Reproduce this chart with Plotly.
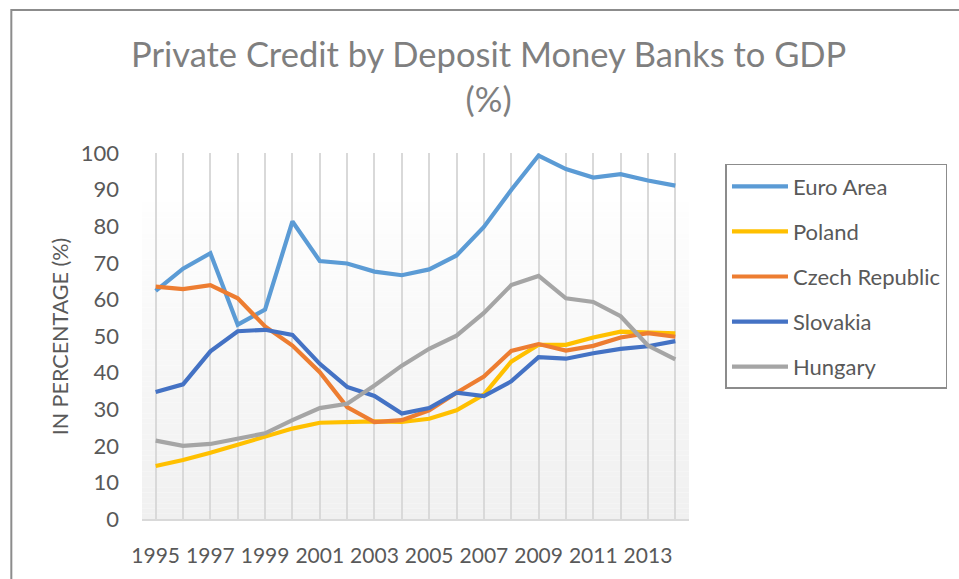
import plotly.graph_objects as go

years = list(range(1995, 2015))
tick_text = [str(y) if y % 2 == 1 else "" for y in years]

euro_area = [62.3, 68.4, 72.6, 53.1, 57.2, 81.3, 70.5, 69.8, 67.6, 66.6,
             68.2, 72.0, 79.8, 89.9, 99.3, 95.6, 93.3, 94.2, 92.5, 91.1]
poland = [14.5, 16.1, 18.1, 20.4, 22.5, 24.7, 26.3, 26.5, 26.7, 26.5,
          27.4, 29.7, 34.0, 43.0, 47.6, 47.6, 49.6, 51.2, 51.0, 50.7]
czech = [63.5, 62.8, 63.9, 60.3, 52.6, 47.4, 40.1, 30.6, 26.5, 27.0,
         29.7, 34.5, 38.9, 45.9, 47.8, 46.0, 47.3, 49.6, 50.8, 49.8]
slovakia = [34.7, 36.8, 45.8, 51.3, 51.7, 50.3, 42.4, 36.1, 33.6, 28.8,
            30.3, 34.5, 33.6, 37.6, 44.2, 43.8, 45.3, 46.5, 47.2, 48.6]
hungary = [21.4, 20.0, 20.5, 22.0, 23.4, 27.0, 30.3, 31.5, 36.5, 41.9,
           46.5, 50.1, 56.3, 63.9, 66.4, 60.3, 59.3, 55.4, 47.4, 43.6]

series = [
    ("Euro Area", euro_area, "#5B9BD5"),
    ("Poland", poland, "#FFC000"),
    ("Czech Republic", czech, "#ED7D31"),
    ("Slovakia", slovakia, "#4472C4"),
    ("Hungary", hungary, "#A5A5A5"),
]

FONT = "Lato, 'Open Sans', sans-serif"
TEXT = "#595959"

fig = go.Figure()
for i, (name, vals, color) in enumerate(series):
    fig.add_trace(go.Scatter(
        x=years, y=vals, name=name, mode="lines",
        line=dict(color=color, width=4.2),
        legendgroup=f"g{i}",
    ))

# Plot-area gradient: near white at the top fading to light grey at the axis
shapes = []
steps = 60
g_top = 0.867
for k in range(steps):
    y0 = g_top * k / steps
    y1 = g_top * (k + 1) / steps
    t = (k + 0.5) / steps  # 0 at bottom, 1 at top
    c = round(240 + (254 - 240) * t)
    shapes.append(dict(type="rect", xref="paper", yref="paper",
                       x0=0, x1=1, y0=y0, y1=y1, layer="below",
                       line=dict(width=0), fillcolor=f"rgb({c},{c},{c})"))

# Outer chart border
shapes.append(dict(type="rect", xref="paper", yref="paper",
                   x0=-0.2389, x1=1.6, y0=-0.3, y1=1.391,
                   line=dict(color="#8C8C8C", width=2), fillcolor="rgba(0,0,0,0)",
                   layer="above"))

fig.update_layout(
    width=959, height=579,
    margin=dict(l=142, r=269, t=153, b=58),
    paper_bgcolor="white", plot_bgcolor="white",
    font=dict(family=FONT, color=TEXT, size=21),
    shapes=shapes,
    showlegend=True,
    legend=dict(
        x=1.0667, y=0.970, xanchor="left", yanchor="top",
        bordercolor="#8C8C8C", borderwidth=1.5,
        font=dict(family=FONT, size=22, color=TEXT),
        tracegroupgap=13.5, itemwidth=56, bgcolor="rgba(255,255,255,0)",
    ),
    annotations=[
        dict(text="Private Credit by Deposit Money Banks to GDP<br>(%)",
             xref="paper", yref="paper", x=0.633, y=1.21,
             xanchor="center", yanchor="middle", showarrow=False,
             font=dict(family=FONT, size=34.5, color="#7F7F7F")),
        dict(text="IN PERCENTAGE (%)", textangle=-90,
             xref="paper", yref="paper", x=-0.1495, y=0.497,
             xanchor="center", yanchor="middle", showarrow=False,
             font=dict(family=FONT, size=21.5, color=TEXT)),
    ],
    xaxis=dict(
        range=[1994.5, 2014.5], tickmode="array", tickvals=years, ticktext=tick_text,
        showgrid=True, gridcolor="#D9D9D9", gridwidth=2,
        showline=True, linecolor="#D9D9D9", linewidth=2,
        ticks="", zeroline=False, ticklabelstandoff=17,
        tickfont=dict(size=21, color=TEXT),
    ),
    yaxis=dict(
        range=[0, 100], dtick=10, tick0=0,
        showgrid=False, showline=False, zeroline=False, ticks="",
        ticklabelstandoff=22, tickfont=dict(size=22, color=TEXT),
    ),
)

fig.write_html("out.html")
